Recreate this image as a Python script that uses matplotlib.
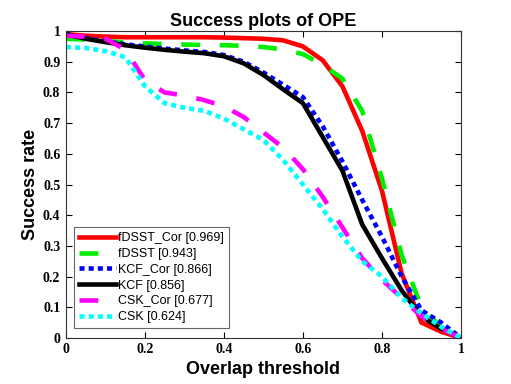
import numpy as np
import matplotlib
matplotlib.use('Agg')
import matplotlib.pyplot as plt

# === DATA ===
thresholds = np.round(np.arange(0, 1.0001, 0.05), 2)

fdsst_cor = [0.99, 0.985, 0.982, 0.98, 0.98, 0.98, 0.98, 0.98, 0.979, 0.977,
             0.975, 0.97, 0.95, 0.905, 0.82, 0.675, 0.48, 0.21, 0.05, 0.02, 0.0]
fdsst = [0.975, 0.972, 0.968, 0.963, 0.96, 0.958, 0.956, 0.955, 0.954, 0.952,
         0.948, 0.94, 0.925, 0.89, 0.845, 0.74, 0.52, 0.27, 0.1, 0.035, 0.0]
kcf_cor = [0.99, 0.977, 0.967, 0.957, 0.95, 0.943, 0.937, 0.932, 0.922, 0.9,
           0.865, 0.825, 0.785, 0.69, 0.575, 0.45, 0.33, 0.2, 0.09, 0.05, 0.0]
kcf = [0.99, 0.975, 0.964, 0.954, 0.946, 0.939, 0.933, 0.928, 0.918, 0.895,
       0.857, 0.81, 0.765, 0.655, 0.545, 0.37, 0.26, 0.155, 0.07, 0.03, 0.0]
csk_cor = [0.985, 0.982, 0.975, 0.94, 0.84, 0.8, 0.79, 0.775, 0.755, 0.72,
           0.67, 0.62, 0.55, 0.46, 0.36, 0.26, 0.19, 0.13, 0.07, 0.03, 0.0]
csk = [0.948, 0.945, 0.935, 0.915, 0.82, 0.765, 0.75, 0.74, 0.715, 0.68,
       0.645, 0.58, 0.5, 0.42, 0.33, 0.25, 0.2, 0.13, 0.08, 0.036, 0.0]

labels = ['fDSST_Cor [0.969]', 'fDSST [0.943]', 'KCF_Cor [0.866]',
          'KCF [0.856]', 'CSK_Cor [0.677]', 'CSK [0.624]']
series = [fdsst_cor, fdsst, kcf_cor, kcf, csk_cor, csk]
colors = ['#ff0000', '#00ee00', '#0000ff', '#000000', '#ff00ff', '#00ffff']
styles = ['-', (0, (4.1, 4.3)), (0, (1.1, 0.9)), '-', (0, (4.1, 4.3)), (0, (1.1, 0.9))]

# === PLOT ===
fig = plt.figure(figsize=(5.11, 3.84), dpi=100)
ax = fig.add_axes([0.129, 0.12, 0.773, 0.799])

for y, lab, c, ls in zip(series, labels, colors, styles):
    ax.plot(thresholds, y, color=c, linestyle=ls, linewidth=3.3, label=lab)

ax.set_xlim(0, 1)
ax.set_ylim(0, 1)
ax.set_xticks(np.arange(0, 1.01, 0.2))
ax.set_yticks(np.arange(0, 1.01, 0.1))
ax.set_xticklabels(['0', '0.2', '0.4', '0.6', '0.8', '1'])
ax.set_yticklabels(['0', '0.1', '0.2', '0.3', '0.4', '0.5', '0.6', '0.7', '0.8', '0.9', '1'])
ax.tick_params(direction='in', top=True, right=True, length=4, width=0.8,
               labelsize=10, pad=4)
for lbl in ax.get_xticklabels() + ax.get_yticklabels():
    lbl.set_family('Liberation Serif')
    lbl.set_fontweight('bold')
for sp in ax.spines.values():
    sp.set_linewidth(0.8)
    sp.set_color('#333333')

ax.set_title('Success plots of OPE', fontsize=13, fontweight='bold',
             family='Liberation Sans', pad=4)
ax.set_xlabel('Overlap threshold', fontsize=13, fontweight='bold',
              family='Liberation Sans', labelpad=3)
ax.set_ylabel('Success rate', fontsize=13, fontweight='bold',
              family='Liberation Sans', labelpad=3)

leg = ax.legend(loc='lower left', bbox_to_anchor=(0.012, 0.02),
                prop={'family': 'Liberation Sans', 'size': 9},
                handlelength=2.9, handletextpad=0.2, labelspacing=0.3,
                borderpad=0.4, borderaxespad=0.3, fancybox=False, framealpha=1)
leg.get_frame().set_edgecolor('#666666')
leg.get_frame().set_linewidth(0.8)

fig.savefig('out.png', dpi=100)
